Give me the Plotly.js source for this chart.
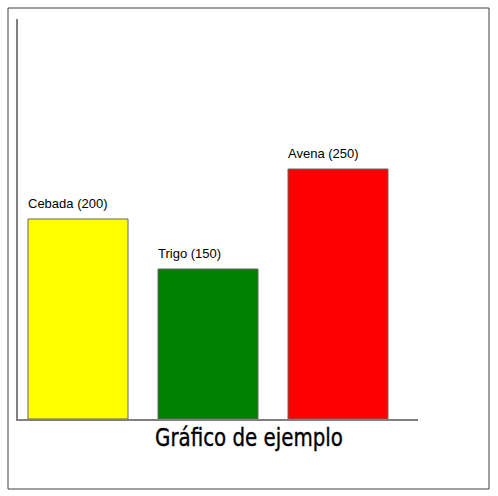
<!DOCTYPE html>
<html>
<head>
<meta charset="utf-8">
<script src="https://cdn.plot.ly/plotly-3.0.1.min.js"></script>
<style>html,body{margin:0;padding:0;background:#fff;}</style>
</head>
<body>
<div id="chart" style="width:498px;height:496px;"></div>
<script>
const categories = ["Cebada", "Trigo", "Avena"];
const values = [200, 150, 250];
const colors = ["#ffff00", "#008000", "#ff0000"];
const chartTitle = "Gráfico de ejemplo";

const barWidth = 100 / 130;
const trace = {
  type: "bar",
  x: categories,
  y: values,
  width: barWidth,
  marker: { color: colors, line: { color: "#666666", width: 1 } },
  hoverinfo: "none"
};

const annotations = categories.map((c, i) => ({
  xref: "x", yref: "y",
  x: i - barWidth / 2, y: values[i],
  xanchor: "left", yanchor: "bottom",
  xshift: -2, yshift: 6,
  showarrow: false,
  text: c + " (" + values[i] + ")",
  font: { family: "Liberation Sans, Arial, sans-serif", size: 13, color: "#000" }
}));

const layout = {
  width: 498, height: 496,
  margin: { l: 18, r: 80, t: 19, b: 77, pad: 0 },
  paper_bgcolor: "#fff", plot_bgcolor: "#fff",
  showlegend: false,
  bargap: 0,
  title: {
    text: chartTitle,
    xref: "container", yref: "container",
    x: 0.5, xanchor: "center",
    y: 1 - 438 / 496, yanchor: "middle",
    font: { family: "DejaVu Sans, sans-serif", size: 24, weight: "normal", color: "#000" }
  },
  xaxis: {
    type: "category",
    range: [-60 / 130, -60 / 130 + 400 / 130],
    showline: true, linecolor: "#808080", linewidth: 2,
    showgrid: false, zeroline: false, showticklabels: false, ticks: "",
    fixedrange: true
  },
  yaxis: {
    range: [0, 400],
    showline: true, linecolor: "#808080", linewidth: 2,
    showgrid: false, zeroline: false, showticklabels: false, ticks: "",
    fixedrange: true
  },
  annotations: annotations,
  shapes: [{
    type: "rect", xref: "paper", yref: "paper",
    x0: (8 - 18) / 400, x1: (489 - 18) / 400,
    y0: (419 - 489) / 400, y1: (419 - 8) / 400,
    line: { color: "#404040", width: 1 }, fillcolor: "rgba(0,0,0,0)",
    layer: "below"
  }]
};

Plotly.newPlot("chart", [trace], layout, { displayModeBar: false, staticPlot: true }).then(() => {
  // condense the title horizontally to mimic the narrow typeface of the reference
  const t = document.querySelector("#chart .gtitle");
  if (t) {
    t.style.stroke = "#000";
    t.style.strokeWidth = "0.4px";
    const bb = t.getBBox();
    const s = 188 / bb.width;
    const cx = bb.x + bb.width / 2;
    const prev = t.getAttribute("transform") || "";
    t.setAttribute("transform", prev + " translate(" + cx + ",0) scale(" + s + ",1) translate(" + (-cx) + ",0)");
  }
});
</script>
</body>
</html>
